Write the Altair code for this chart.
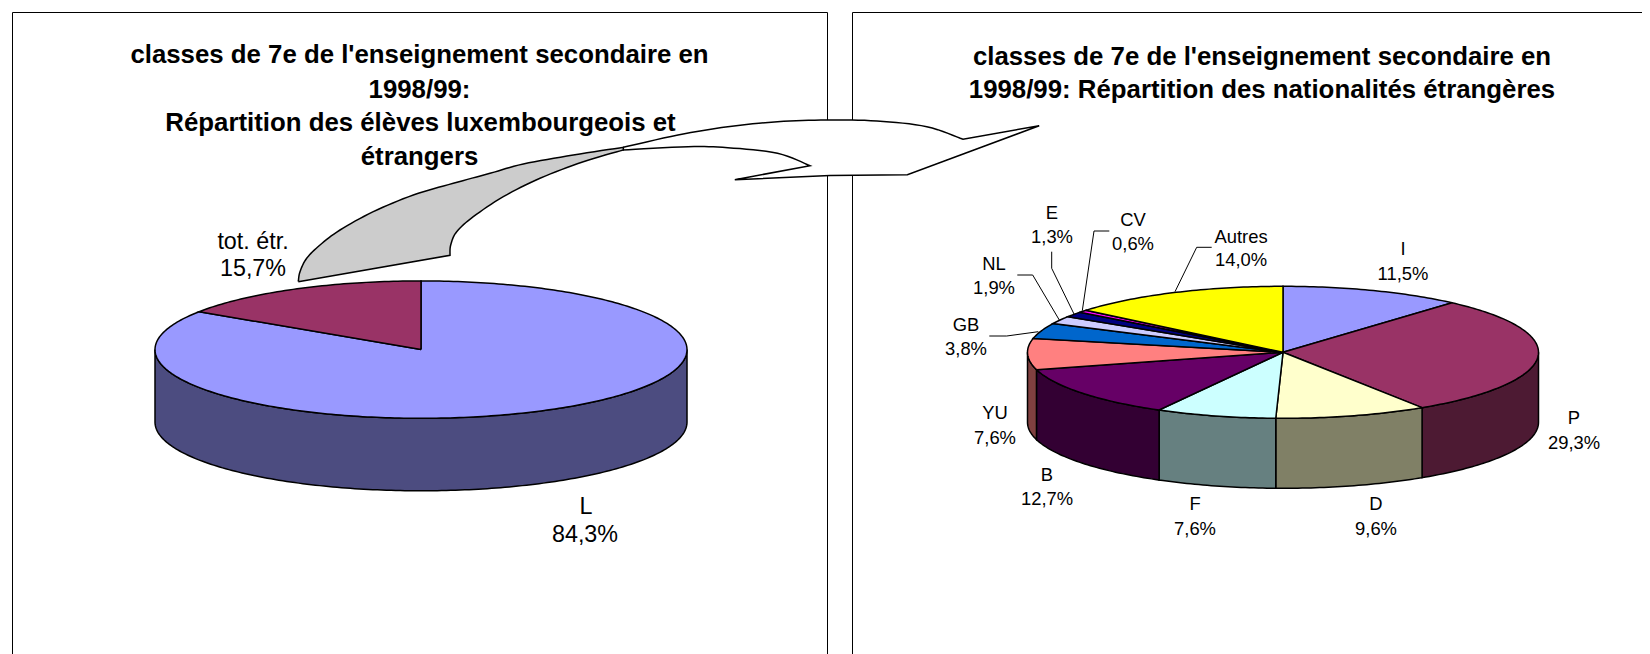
import math
import altair as alt
import pandas as pd

W, H = 1634, 646
FONT = "Liberation Sans"

left_names = ["L", "tot. étr."]
left_shares = [84.3, 15.7]
left_colors = ["#9999FF", "#993366"]
left_sides = ["#4C4C80", "#4D1A33"]

right_names = ["I", "P", "D", "F", "B", "YU", "GB", "NL", "E", "CV", "Autres"]
right_shares = [11.5, 29.3, 9.6, 7.6, 12.7, 7.6, 3.8, 1.9, 1.3, 0.6, 14.0]
right_colors = ["#9999FF", "#993366", "#FFFFCC", "#CCFFFF", "#660066", "#FF8080",
                "#0066CC", "#CCCCFF", "#000080", "#FF00FF", "#FFFF00"]
right_sides = ["#4C4C80", "#4D1A33", "#808066", "#668080", "#330033", "#804040",
               "#003366", "#666680", "#000040", "#800080", "#808000"]

# centre x, centre y, radius x, radius y, depth
left_geom = (421, 349.6, 266, 68.7, 72.5)
right_geom = (1283, 352.3, 255.5, 66, 70)

title_left = ["classes de 7e de l'enseignement secondaire en", "1998/99:",
              "Répartition des élèves luxembourgeois et", "étrangers"]
title_left_x = [419.5, 419.5, 420.5, 419.5]
title_left_y = [55, 89.5, 123, 156.5]
title_right = ["classes de 7e de l'enseignement secondaire en",
               "1998/99: Répartition des nationalités étrangères"]
title_right_x = [1262, 1262]
title_right_y = [56.5, 90]

big_text = ["tot. étr.", "15,7%", "L", "84,3%"]
big_x = [253, 253, 586, 585]
big_y = [241.5, 269, 507, 535]

small_text = ["E", "1,3%", "CV", "0,6%", "Autres", "14,0%", "NL", "1,9%", "GB", "3,8%",
              "I", "11,5%", "YU", "7,6%", "P", "29,3%", "B", "12,7%", "F", "7,6%", "D", "9,6%"]
small_x = [1052, 1052, 1133, 1133, 1241, 1241, 994, 994, 966, 966,
           1403, 1403, 995, 995, 1574, 1574, 1047, 1047, 1195, 1195, 1376, 1376]
small_y = [213, 237, 220, 244, 237, 260, 264, 288, 325, 349,
           249, 274, 413, 438, 418, 443, 475, 499, 504, 529, 504, 529]

leaders = [
    ([1051.7, 1051.7, 1074], [251.7, 268.3, 314]),
    ([1109.3, 1094, 1082.3], [231, 231, 310.7]),
    ([1211.7, 1196.7, 1175], [247.3, 247.3, 291.7]),
    ([1017.3, 1032.7, 1059.3], [275, 275, 320]),
    ([989.3, 1006.7, 1038.3], [336, 336, 331.7]),
]

panels = [
    ([12.5, 12.5, 827.5, 827.5], [660, 12.5, 12.5, 660]),
    ([852.5, 852.5, 1660], [660, 12.5, 12.5]),
]

# Hand-read outline of the block arrow: curved runs and straight runs
arrow_upper = ([623.3, 678, 727.8, 777.5, 827, 877, 926.8, 963],
               [147.3, 135, 126.7, 121.7, 120, 121, 126.7, 139.3])
arrow_tip = ([1039.2, 907.4, 830, 734.8], [125.7, 174.7, 175.6, 179.7])
arrow_lower = ([810, 777.5, 727.8, 688, 623.3], [165.7, 153.3, 147.7, 146.7, 150])
grey_outer = ([298.3, 300, 306.7, 320, 340, 373.3, 413.3, 453.3, 490, 523.3, 573.3, 623.3],
              [281.7, 271.7, 258.3, 245, 230, 211.7, 195, 183.3, 173.3, 164, 155, 147.3])
grey_inner = ([623.3, 583.3, 540, 503.3, 473.3, 456.7, 450.7, 450],
              [150, 161.7, 178.3, 196.7, 216.7, 231.7, 245, 255.3])

x_scale = alt.Scale(domain=[8, 8 + W], nice=False, zero=False)
y_scale = alt.Scale(domain=[8 + H, 8], nice=False, zero=False)
X = alt.X("x:Q", scale=x_scale, axis=None)
Y = alt.Y("y:Q", scale=y_scale, axis=None)


def smooth(run, steps=8):
    xs, ys = run
    px = [xs[0]] + list(xs) + [xs[-1]]
    py = [ys[0]] + list(ys) + [ys[-1]]
    ox, oy = [], []
    for i in range(1, len(px) - 2):
        for k in range(steps):
            t = k / steps
            def cr(p):
                return 0.5 * (2 * p[i] + (p[i + 1] - p[i - 1]) * t
                              + (2 * p[i - 1] - 5 * p[i] + 4 * p[i + 1] - p[i + 2]) * t * t
                              + (3 * p[i] - p[i - 1] - 3 * p[i + 1] + p[i + 2]) * t ** 3)
            ox.append(cr(px))
            oy.append(cr(py))
    ox.append(xs[-1])
    oy.append(ys[-1])
    return ox, oy


def shape(xs, ys, fill=None, width=1.0):
    df = pd.DataFrame({"x": xs, "y": ys, "i": range(len(xs))})
    args = dict(stroke="black", strokeWidth=width, interpolate="linear",
                strokeJoin="miter", clip=True)
    if fill:
        args["fill"] = fill
    return alt.Chart(df).mark_line(**args).encode(x=X, y=Y, order="i:Q")


def arc(geom, a, b, dy=0.0):
    cx, cy, rx, ry, _ = geom
    n = max(2, int(abs(b - a) / 1.0) + 1)
    pts = []
    for k in range(n + 1):
        t = math.radians(a + (b - a) * k / n)
        pts.append((cx + rx * math.sin(t), cy - ry * math.cos(t) + dy))
    return pts


def pie(shares, colors, sides, geom):
    total = sum(shares)
    out = []
    edges = [0.0]
    for s in shares:
        edges.append(edges[-1] + s / total * 360)
    for i in range(len(shares)):
        a, b = max(edges[i], 90), min(edges[i + 1], 270)
        if b > a:
            pts = arc(geom, a, b) + arc(geom, b, a, geom[4])
            pts.append(pts[0])
            out.append(shape([p[0] for p in pts], [p[1] for p in pts], sides[i], 1.5))
    for i in range(len(shares)):
        pts = [(geom[0], geom[1])] + arc(geom, edges[i], edges[i + 1]) + [(geom[0], geom[1])]
        out.append(shape([p[0] for p in pts], [p[1] for p in pts], colors[i], 1.5))
    return out


def labels(text, xs, ys, size, bold=False):
    df = pd.DataFrame({"x": xs, "y": ys, "t": text})
    return alt.Chart(df).mark_text(font=FONT, fontSize=size, align="center", baseline="middle",
                                   fontWeight="bold" if bold else "normal", color="black").encode(
        x=X, y=Y, text="t:N")


ux, uy = smooth(arrow_upper)
lx, ly = smooth(arrow_lower)
white_x = ux + list(arrow_tip[0]) + lx + [ux[0]]
white_y = uy + list(arrow_tip[1]) + ly + [uy[0]]
ox, oy = smooth(grey_outer)
ix, iy = smooth(grey_inner)
grey_x = ox + ix + [ox[0]]
grey_y = oy + iy + [oy[0]]

layers = [shape(xs, ys, None, 1.0) for xs, ys in panels]
layers += [labels(title_left, title_left_x, title_left_y, 25.8, True),
           labels(title_right, title_right_x, title_right_y, 25.8, True)]
layers += pie(left_shares, left_colors, left_sides, left_geom)
layers += pie(right_shares, right_colors, right_sides, right_geom)
layers += [shape(xs, ys, None, 1.0) for xs, ys in leaders]
layers += [labels(big_text, big_x, big_y, 23.3), labels(small_text, small_x, small_y, 18.4)]
layers += [shape(white_x, white_y, "white", 1.5), shape(grey_x, grey_y, "#CCCCCC", 1.5)]

chart = alt.layer(*layers).properties(
    width=W, height=H, padding=0, autosize=alt.AutoSizeParams(type="none")
).configure_view(stroke=None)

chart.save("out.html", embed_options={"renderer": "svg", "actions": False})
